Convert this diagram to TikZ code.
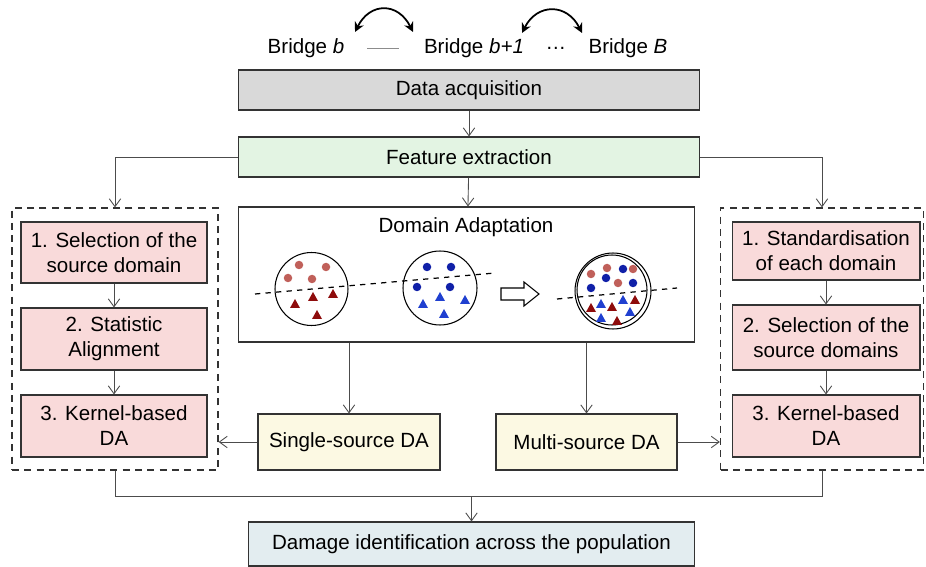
\documentclass[tikz,border=0pt]{standalone}
\usepackage{fontspec}
\setmainfont{Liberation Sans}
\usetikzlibrary{arrows.meta}

\definecolor{acqgray}{HTML}{D9D9D9}
\definecolor{featgreen}{HTML}{E3F4E3}
\definecolor{steppink}{HTML}{F9DADA}
\definecolor{dayellow}{HTML}{FCF9E3}
\definecolor{dmgblue}{HTML}{E3EDF0}
\definecolor{dotred}{HTML}{C0605A}
\definecolor{trired}{HTML}{8E0C0C}
\definecolor{dotblue}{HTML}{1020A8}
\definecolor{triblue}{HTML}{2040D0}

\tikzset{
  box/.style={draw=black!80, line width=0.6pt, align=center, inner sep=0pt},
  groupbox/.style={draw=black!80, dash pattern=on 4pt off 3pt, line width=0.7pt},
  line/.style={draw=black!70, line width=0.5pt},
  arr/.style={line, -{Straight Barb[length=4.5pt,width=6.5pt]}},
}

\begin{document}
\begin{tikzpicture}[x=0.02cm, y=-0.02cm, font=\fontsize{11.7}{14.2}\selectfont]
    \useasboundingbox (0,0) rectangle (926,567);
    % Ponti della popolazione
    \node (br1) at (306,48) {Bridge \textit{b}};
    \node (br2) at (474,48) {Bridge \textit{b+1}};
    \node (dots) at (556,48) {…};
    \node (br3) at (628,48) {Bridge \textit{B}};
    \coordinate (dash1) at (367,48);
    \coordinate (dash2) at (399,48);
    \draw[black!45, line width=0.5pt] (dash1) -- (dash2);
    % Frecce curve tra i ponti
    \coordinate (a1) at (355,32);
    \coordinate (a2) at (413,32);
    \coordinate (a3) at (522,33);
    \coordinate (a4) at (582,33);
    \draw[{Stealth[length=5.5pt,width=5.5pt]}-{Stealth[length=5.5pt,width=5.5pt]}, line width=1pt]
        (a1) .. controls (370,2) and (398,2) .. (a2);
    \draw[{Stealth[length=5.5pt,width=5.5pt]}-{Stealth[length=5.5pt,width=5.5pt]}, line width=1pt]
        (a3) .. controls (537,3) and (567,3) .. (a4);
    % Blocchi centrali
    \node[box, fill=acqgray, minimum width=9.24cm, minimum height=0.8cm] (acq) at (469,90) {Data acquisition};
    \node[box, fill=featgreen, minimum width=9.24cm, minimum height=0.8cm] (feat) at (469,157) {Feature extraction};
    \node[box, minimum width=9.14cm, minimum height=2.7cm] (da) at (466.5,274.5) {};
    \node (datitle) at (466,227) {Domain Adaptation};
    \node[box, fill=dayellow, minimum width=3.64cm, minimum height=1.12cm] (single) at (349,442) {Single-source DA};
    \node[box, fill=dayellow, minimum width=3.62cm, minimum height=1.12cm] (multi) at (586.5,442) {Multi-source DA};
    \node[box, fill=dmgblue, minimum width=8.94cm, minimum height=0.88cm] (dmg) at (471.5,544) {Damage identification across the population};
    % Riquadro sinistro
    \node[groupbox, minimum width=4.12cm, minimum height=5.24cm] (left) at (115,339) {};
    \node[box, fill=steppink, minimum width=3.72cm, minimum height=1.22cm] (l1) at (114,252.5) {1. Selection of the\\source domain};
    \node[box, fill=steppink, minimum width=3.72cm, minimum height=1.24cm] (l2) at (114,339) {2. Statistic\\Alignment};
    \node[box, fill=steppink, minimum width=3.72cm, minimum height=1.24cm] (l3) at (114,426) {3. Kernel-based\\DA};
    % Riquadro destro
    \node[groupbox, minimum width=4.06cm, minimum height=5.24cm] (right) at (822,339) {};
    \node[box, fill=steppink, minimum width=3.76cm, minimum height=1.16cm] (r1) at (826,251) {1. Standardisation\\of each domain};
    \node[box, fill=steppink, minimum width=3.76cm, minimum height=1.3cm] (r2) at (826,337.5) {2. Selection of the\\source domains};
    \node[box, fill=steppink, minimum width=3.76cm, minimum height=1.24cm] (r3) at (826,426) {3. Kernel-based\\DA};
    % Collegamenti
    \draw[arr] (acq) -- (feat);
    \draw[arr] (feat) -- (da);
    \draw[arr] (feat.west) -| (left.north);
    \draw[arr] (feat.east) -| (right.north);
    \draw[arr] (single.north |- da.south) -- (single.north);
    \draw[arr] (multi.north |- da.south) -- (multi.north);
    \draw[arr] (single.west) -- (left.east |- single.west);
    \draw[arr] (multi.east) -- (right.west |- multi.east);
    \draw[arr] (l1) -- (l2);
    \draw[arr] (l2) -- (l3);
    \draw[arr] (r1) -- (r2);
    \draw[arr] (r2) -- (r3);
    \path (dmg.north) ++(0,-25) coordinate (join);
    \draw[line] (left.south) |- (join) -| (right.south);
    \draw[arr] (join) -- (dmg.north);
    % Domini: cerchi
    \draw[line width=0.6pt] (311.5,289) circle (0.73cm);
    \draw[line width=0.6pt] (440,288) circle (0.74cm);
    \draw[line width=0.6pt] (613,291) circle (0.76cm);
    \draw[line width=0.6pt] (612,290) circle (0.70cm);
    % Confini di decisione
    \draw[dashed, line width=0.7pt] (255,294) -- (495,273);
    \draw[dashed, line width=0.7pt] (557,299) -- (677,288);
    % Freccia vuota
    \draw[fill=white, line width=0.6pt] (501,288) -- (524,288) -- (524,282) -- (539,294)
        -- (524,306) -- (524,300) -- (501,300) -- cycle;
    % Campioni sorgente
    \foreach \x/\y in {299/265, 326/267, 288/278, 312/279, 607/268, 633/269, 591/274, 618/283}
        \fill[dotred] (\x,\y) circle (0.085cm);
    \foreach \x/\y in {295/304, 313/297, 333/294, 317/315, 591/308, 612/307, 635/300, 617/321}
        \fill[trired] (\x,\y) ++(0,-5) -- ++(5,9) -- ++(-10,0) -- cycle;
    % Campioni bersaglio
    \foreach \x/\y in {427/267, 451/267, 417/287, 450/287, 623/269, 606/278, 633/283, 591/288}
        \fill[dotblue] (\x,\y) circle (0.085cm);
    \foreach \x/\y in {423/304, 440/297, 465/300, 444/314, 601/304, 623/300, 601/318, 630/312}
        \fill[triblue] (\x,\y) ++(0,-5) -- ++(5,9) -- ++(-10,0) -- cycle;
\end{tikzpicture}
\end{document}
